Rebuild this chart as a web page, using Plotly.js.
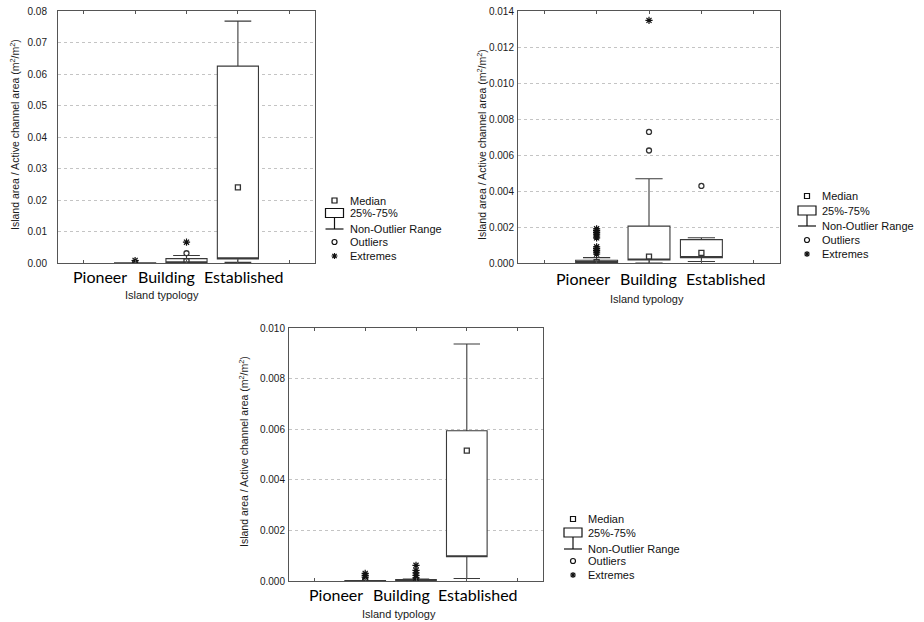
<!DOCTYPE html>
<html>
<head>
<meta charset="utf-8">
<script src="https://cdn.plot.ly/plotly-3.0.1.min.js"></script>
<style>html,body{margin:0;padding:0;background:#fff}#chart{width:924px;height:622px}</style>
</head>
<body>
<div id="chart"></div>
<script>
// ---------- DATA ----------
const categories = ['Pioneer', 'Building', 'Established'];
const xTitle = 'Island typology';
const yTitle = 'Island area / Active channel area (m<sup>2</sup>/m<sup>2</sup>)';
const legendLabels = ['Median', '25%-75%', 'Non-Outlier Range', 'Outliers', 'Extremes'];

// Panel A (top left)
const a_q1     = [0.00000, 0.00010, 0.00130];
const a_median = [0.00000, 0.00050, 0.02400];
const a_q3     = [0.00005, 0.00140, 0.06250];
const a_lower  = [0.00000, 0.00000, 0.00020];
const a_upper  = [0.00010, 0.00240, 0.07680];
const a_outliers = [[], [0.0031], []];
const a_extremes = [[0.0008], [0.0066], []];
const a_yticks = [0, 0.01, 0.02, 0.03, 0.04, 0.05, 0.06, 0.07, 0.08];

// Panel B (top right)
const b_q1     = [0.00002, 0.00017, 0.00030];
const b_median = [0.00005, 0.00035, 0.00056];
const b_q3     = [0.00015, 0.00205, 0.00130];
const b_lower  = [0.00000, 0.00000, 0.00008];
const b_upper  = [0.00030, 0.00468, 0.00140];
const b_outliers = [[], [0.00625, 0.00728], [0.00428]];
const b_extremes = [[0.0019, 0.0018, 0.0017, 0.0016, 0.0015, 0.0014, 0.0009, 0.0008, 0.0007, 0.0006, 0.0005], [0.01348], []];
const b_yticks = [0, 0.002, 0.004, 0.006, 0.008, 0.010, 0.012, 0.014];

// Panel C (bottom)
const c_q1     = [0.00000, 0.00000, 0.00096];
const c_median = [0.00000, 0.00002, 0.00515];
const c_q3     = [0.00002, 0.00006, 0.00594];
const c_lower  = [0.00000, 0.00000, 0.00010];
const c_upper  = [0.00002, 0.00008, 0.00937];
const c_outliers = [[], [], []];
const c_extremes = [[0.0003, 0.00022, 0.00015], [0.00062, 0.00042, 0.00032, 0.00022, 0.00012], []];
const c_yticks = [0, 0.002, 0.004, 0.006, 0.008, 0.010];

// ---------- HELPERS ----------
const W = 924, H = 622;
const px = x => x / W;
const py = y => 1 - y / H;
const INK = '#333';
const idx = categories.map((c, i) => i);

function flat(groups) {
  const xs = [], ys = [];
  groups.forEach((g, i) => g.forEach(v => { xs.push(i); ys.push(v); }));
  return {xs, ys};
}

function panelTraces(ax, ay, q1, med, q3, lo, hi, outl, extr) {
  const o = flat(outl), e = flat(extr);
  return [
    {type: 'box', xaxis: ax, yaxis: ay, x: idx, q1: q1, median: q1, q3: q3,
     lowerfence: lo, upperfence: hi, boxpoints: false, width: 0.8, whiskerwidth: 0.65,
     fillcolor: '#ffffff', line: {color: '#3a3a3a', width: 1.1}, showlegend: false, hoverinfo: 'skip'},
    {type: 'scatter', mode: 'markers', xaxis: ax, yaxis: ay, x: idx, y: med,
     marker: {symbol: 'square-open', size: 5, color: INK, line: {width: 1.3, color: INK}}, showlegend: false},
    {type: 'scatter', mode: 'markers', xaxis: ax, yaxis: ay, x: o.xs, y: o.ys,
     marker: {symbol: 'circle-open', size: 5, color: INK, line: {width: 1.3, color: INK}}, showlegend: false},
    {type: 'scatter', mode: 'markers', xaxis: ax, yaxis: ay, x: e.xs, y: e.ys,
     marker: {symbol: 'asterisk-open', size: 6, color: '#111', line: {width: 1.2, color: '#111'}}, showlegend: false}
  ];
}

const data = [].concat(
  panelTraces('x', 'y', a_q1, a_median, a_q3, a_lower, a_upper, a_outliers, a_extremes),
  panelTraces('x2', 'y2', b_q1, b_median, b_q3, b_lower, b_upper, b_outliers, b_extremes),
  panelTraces('x3', 'y3', c_q1, c_median, c_q3, c_lower, c_upper, c_outliers, c_extremes)
);

const tickFont = {family: 'Liberation Sans, Arial, sans-serif', size: 10, color: '#1a1a1a'};

function xAxis(l, r, anchor) {
  return {domain: [px(l), px(r)], anchor: anchor, range: [-1.5, categories.length + 0.5],
    tickvals: [-1].concat(idx, [categories.length]), showticklabels: false,
    ticks: 'inside', ticklen: 3, tickcolor: '#555', showline: true, linecolor: '#555',
    linewidth: 1, mirror: 'ticks', showgrid: false, zeroline: false};
}
function yAxis(t, b, anchor, ticks, fmt, gap) {
  return {domain: [py(b), py(t)], anchor: anchor, range: [ticks[0], ticks[ticks.length - 1]],
    tickvals: ticks, tickformat: fmt, tickfont: tickFont,
    ticks: 'outside', ticklen: gap, tickcolor: 'rgba(0,0,0,0)',
    showline: true, linecolor: '#555', linewidth: 1, mirror: true,
    showgrid: true, gridcolor: '#c4c4c4', griddash: 'dot', gridwidth: 1, zeroline: false};
}

const annotations = [];
const shapes = [];
const catFont = {family: 'Lato, Open Sans, sans-serif', size: 16, color: '#000'};
const titleFont = {family: 'Liberation Sans Narrow, Liberation Sans, Arial, sans-serif', size: 11, color: '#1a1a1a'};
const yTitleFont = {family: 'Liberation Sans, Arial, sans-serif', size: 10.5, color: '#1a1a1a'};
const legFont = {family: 'Liberation Sans, Arial, sans-serif', size: 11, color: '#111'};

function txt(x, y, text, font, opts) {
  annotations.push(Object.assign({xref: 'paper', yref: 'paper', x: px(x), y: py(y), text: text,
    showarrow: false, font: font, xanchor: 'center', yanchor: 'middle'}, opts || {}));
}

function panelText(catX, catY, tX, tY, yX, yY) {
  categories.forEach((c, i) => txt(catX[i], catY, c, catFont));
  txt(tX, tY, xTitle, titleFont);
  txt(yX, yY, yTitle, yTitleFont, {textangle: -90});
}

function legend(cx, rows, textX) {
  const lc = '#111';
  shapes.push({type: 'rect', xref: 'paper', yref: 'paper', x0: px(cx - 2.5), x1: px(cx + 2.5),
    y0: py(rows[0] + 2.5), y1: py(rows[0] - 2.5), line: {color: lc, width: 1.2}});
  shapes.push({type: 'rect', xref: 'paper', yref: 'paper', x0: px(cx - 9), x1: px(cx + 9),
    y0: py(rows[1] + 4), y1: py(rows[1] - 5), line: {color: lc, width: 1.2}});
  shapes.push({type: 'line', xref: 'paper', yref: 'paper', x0: px(cx), x1: px(cx),
    y0: py(rows[1] + 4), y1: py(rows[2] + 1), line: {color: lc, width: 1.2}});
  shapes.push({type: 'line', xref: 'paper', yref: 'paper', x0: px(cx - 9), x1: px(cx + 9),
    y0: py(rows[2] + 1), y1: py(rows[2] + 1), line: {color: lc, width: 1.2}});
  shapes.push({type: 'circle', xref: 'paper', yref: 'paper', x0: px(cx - 2.5), x1: px(cx + 2.5),
    y0: py(rows[3] + 2.5), y1: py(rows[3] - 2.5), line: {color: lc, width: 1.2}});
  const r = 3, d = 2.2, y = rows[4];
  const P = (x, yy) => px(x) + ',' + py(yy);
  shapes.push({type: 'path', xref: 'paper', yref: 'paper', line: {color: lc, width: 1.2},
    path: 'M' + P(cx - r, y) + 'L' + P(cx + r, y) + 'M' + P(cx, y - r) + 'L' + P(cx, y + r) +
          'M' + P(cx - d, y - d) + 'L' + P(cx + d, y + d) + 'M' + P(cx - d, y + d) + 'L' + P(cx + d, y - d)});
  legendLabels.forEach((t, i) => txt(textX, rows[i] + (i === 2 ? 0.5 : 0), t, legFont, {xanchor: 'left'}));
}

panelText([100, 166, 244], 276, 162, 295, 15, 135);
legend(334.5, [200.5, 213.5, 228, 242, 256], 348);
panelText([583, 648, 726], 278, 647, 299, 481, 145);
legend(807, [196, 211, 225, 240, 254], 820);
panelText([336, 401, 478], 594, 399, 614, 243, 452);
legend(573, [519, 533, 548, 561, 575], 586);

const layout = {
  width: W, height: H, margin: {l: 0, r: 0, t: 0, b: 0},
  paper_bgcolor: '#ffffff', plot_bgcolor: '#ffffff', showlegend: false,
  xaxis: xAxis(58, 315, 'y'),
  yaxis: yAxis(11, 263, 'x', a_yticks, '.2f', 8),
  xaxis2: xAxis(518, 780, 'y2'),
  yaxis2: yAxis(11, 263, 'x2', b_yticks, '.3f', 1),
  xaxis3: xAxis(289, 543, 'y3'),
  yaxis3: yAxis(328, 581, 'x3', c_yticks, '.3f', 1),
  annotations: annotations,
  shapes: shapes
};

Plotly.newPlot('chart', data, layout, {staticPlot: true, displayModeBar: false});
</script>
</body>
</html>
